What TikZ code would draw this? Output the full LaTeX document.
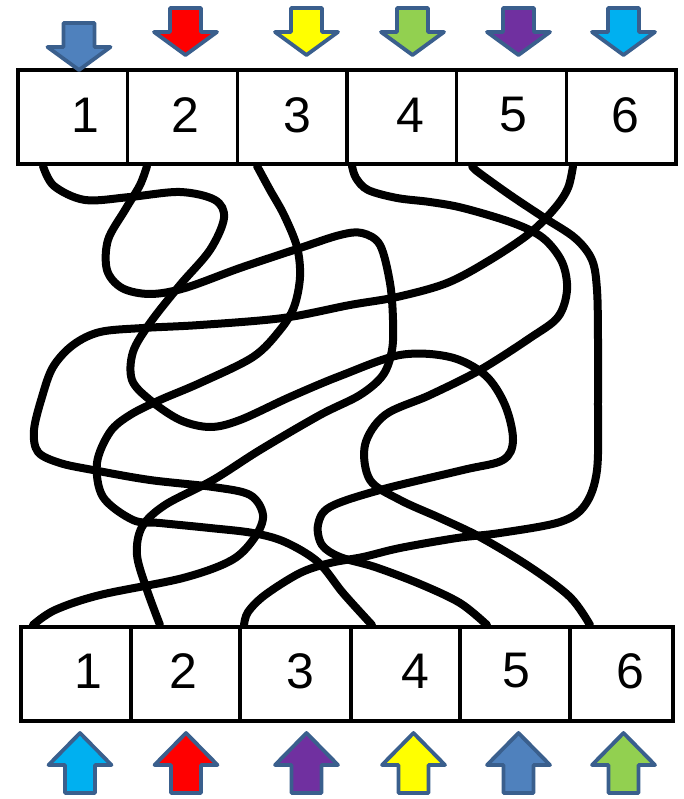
\documentclass[tikz,border=0pt]{standalone}
\usepackage{fontspec}
\setmainfont{Liberation Sans}
\definecolor{outl}{HTML}{3A5F8D}
\definecolor{cblue}{HTML}{4F81BD}
\definecolor{cred}{HTML}{FF0000}
\definecolor{cyellow}{HTML}{FFFF00}
\definecolor{cgreen}{HTML}{92D050}
\definecolor{cpurple}{HTML}{7030A0}
\definecolor{ccyan}{HTML}{00B0F0}
\begin{document}
\begin{tikzpicture}[x=1pt,y=-1pt,
  box/.style={draw=black, line width=3.5pt, minimum height=94pt, inner sep=0pt},
  digit/.style={font=\fontsize{50}{50}\selectfont, inner sep=0pt},
  wire/.style={line width=8pt, line cap=round, line join=round},
  pics/downarr/.style={code={\draw[line width=3.8pt, draw=outl, fill=#1, line join=round]
     (-15.5,0) -- (15.5,0) -- (15.5,24) -- (31.5,24) -- (0,47) -- (-31.5,24) -- (-15.5,24) -- cycle;}},
  pics/uparr/.style={code={\draw[line width=3.8pt, draw=outl, fill=#1, line join=round]
     (0,0) -- (31.5,32) -- (15,32) -- (15,60) -- (-15,60) -- (-15,32) -- (-31.5,32) -- cycle;}}
]
\useasboundingbox (0,0) rectangle (684,799);

% wire ends
\coordinate (a1) at (43,166);  \coordinate (a2) at (147,166);
\coordinate (a3) at (257,166); \coordinate (a4) at (352,166);
\coordinate (a5) at (472,166); \coordinate (a6) at (573,166);
\coordinate (b1) at (33,625);  \coordinate (b2) at (160,625);
\coordinate (b3) at (244,625); \coordinate (b4) at (372,625);
\coordinate (b5) at (487,625); \coordinate (b6) at (590,625);

% wires
\draw[wire] plot[smooth, tension=0.55] coordinates {(a1) (54,186) (85,200) (130,197) (180,192) (215,200) (224,218) (210,250) (180,285) (150,323) (133,352) (132,380) (150,400) (180,420) (210,427) (240,420) (290,397) (340,376) (400,355) (450,357) (485,375) (505,405) (513,440) (503,460) (463,470) (380,490) (330,507) (318,525) (322,545) (340,557) (375,567) (420,584) (460,603) (b5)};
\draw[wire] plot[smooth, tension=0.55] coordinates {(a2) (140,185) (125,210) (108,240) (107,270) (122,288) (150,294) (185,288) (240,268) (300,248) (340,235) (362,233) (380,245) (390,283) (393,320) (392,350) (383,375) (360,395) (320,415) (260,450) (213,480) (165,505) (142,527) (137,555) (147,590) (b2)};
\draw[wire] plot[smooth, tension=0.55] coordinates {(a3) (270,190) (284,215) (297,247) (300,277) (294,307) (280,330) (253,357) (200,383) (160,400) (130,415) (110,432) (97,463) (103,497) (133,520) (160,523) (210,528) (253,533) (285,542) (318,562) (343,593) (b4)};
\draw[wire] plot[smooth, tension=0.55] coordinates {(a4) (356,178) (368,190) (397,198) (430,202) (463,208) (513,223) (543,238) (562,262) (567,290) (558,317) (530,338) (480,370) (430,395) (385,415) (365,445) (370,480) (400,500) (440,518) (480,537) (530,567) (570,597) (b6)};
\draw[wire] plot[smooth, tension=0.55] coordinates {(a5) (478,172) (510,195) (543,217) (575,238) (592,260) (597,290) (598,340) (598,400) (597,470) (585,505) (560,522) (500,533) (457,538) (400,548) (363,557) (330,563) (300,573) (265,595) (248,612) (b3)};
\draw[wire] plot[smooth, tension=0.55] coordinates {(a6) (568,188) (555,208) (530,233) (490,260) (447,283) (397,297) (350,305) (283,318) (200,325) (143,328) (100,332) (73,345) (53,367) (42,397) (34,430) (38,452) (60,463) (93,470) (150,480) (213,487) (250,495) (263,515) (255,537) (232,560) (183,578) (100,595) (55,610) (b1)};

% top boxes
\node[box, minimum width=109.7pt] (t1) at (72.8,117) {};
\node[box, minimum width=109.7pt] (t2) at (182.5,117) {};
\node[box, minimum width=109.7pt] (t3) at (292.2,117) {};
\node[box, minimum width=109.7pt] (t4) at (401.8,117) {};
\node[box, minimum width=109.7pt] (t5) at (511.5,117) {};
\node[box, minimum width=109.7pt] (t6) at (621.2,117) {};
\node[digit] (tn1) at (85,115) {1};
\node[digit] (tn2) at (185,115) {2};
\node[digit] (tn3) at (297,115) {3};
\node[digit] (tn4) at (410,115) {4};
\node[digit] (tn5) at (513,115) {5};
\node[digit] (tn6) at (625,115) {6};

% bottom boxes
\node[box, minimum width=110pt] (u1) at (76,674) {};
\node[box, minimum width=109pt] (u2) at (185.5,674) {};
\node[box, minimum width=111pt] (u3) at (295.5,674) {};
\node[box, minimum width=109pt] (u4) at (405.5,674) {};
\node[box, minimum width=110pt] (u5) at (515,674) {};
\node[box, minimum width=103pt] (u6) at (621.5,674) {};
\node[digit] (un1) at (88,671) {1};
\node[digit] (un2) at (183,671) {2};
\node[digit] (un3) at (300,671) {3};
\node[digit] (un4) at (415,671) {4};
\node[digit] (un5) at (516,671) {5};
\node[digit] (un6) at (630,671) {6};

% top arrows
\pic at (79,23) {downarr=cblue};
\pic at (185.5,8) {downarr=cred};
\pic at (306.5,8) {downarr=cyellow};
\pic at (412.5,8) {downarr=cgreen};
\pic at (518.5,8) {downarr=cpurple};
\pic at (623.5,8) {downarr=ccyan};
% bottom arrows
\pic at (80,733) {uparr=ccyan};
\pic at (186,733) {uparr=cred};
\pic at (306.5,733) {uparr=cpurple};
\pic at (413.5,733) {uparr=cyellow};
\pic at (518.5,733) {uparr=cblue};
\pic at (623.5,733) {uparr=cgreen};
\end{tikzpicture}
\end{document}
